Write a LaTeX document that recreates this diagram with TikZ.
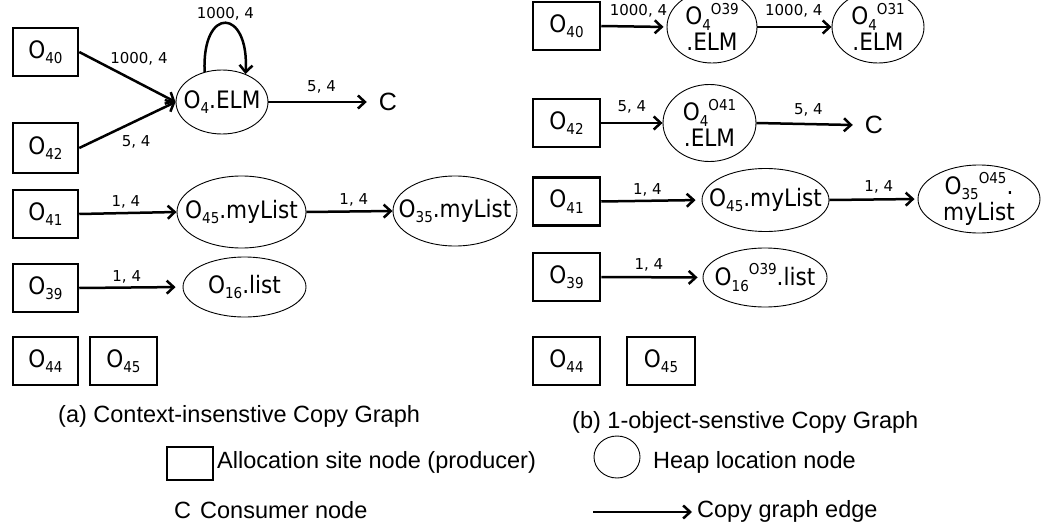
\documentclass[tikz,border=0pt]{standalone}
\usepackage{fontspec}
\setmainfont{Liberation Sans}
\newfontfamily\nodefont[FakeStretch=0.9]{DejaVu Sans}
\newfontfamily\lblfont{DejaVu Sans}
\usetikzlibrary{shapes.geometric,arrows.meta}

% lowered / raised indices inside node names
\newcommand\subsc[1]{\raisebox{-0.22em}{\fontsize{15}{15}\selectfont #1}}
\newcommand\supsc[1]{\raisebox{0.45em}{\fontsize{15}{15}\selectfont #1}}

\tikzset{
  box/.style={draw, line width=2.5pt, minimum width=65pt, minimum height=48pt,
    inner sep=0pt, font=\nodefont\fontsize{24}{26}\selectfont},
  heap/.style={draw, ellipse, line width=0.9pt, inner sep=0pt},
  heaptext/.style={inner sep=0pt, align=center, font=\nodefont\fontsize{24}{26}\selectfont},
  edge/.style={line width=2.5pt, -{Straight Barb[length=7pt,width=13pt]}},
  lbl/.style={inner sep=0pt, font=\lblfont\fontsize{15}{15}\selectfont},
  cons/.style={inner sep=0pt, inner xsep=12pt, font=\fontsize{25}{25}\selectfont},
  captext/.style={inner sep=0pt, font=\fontsize{23.5}{26}\selectfont},
}

\begin{document}
\begin{tikzpicture}[x=1pt, y=-1pt]
\fill[white] (0,0) rectangle (1041,527);
\useasboundingbox (0,0) rectangle (1041,527);

% ---------- (a) context-insensitive graph ----------
\node[box] (a40) at (45.5,52) {O\subsc{40}};
\node[box, minimum height=50pt] (a42) at (45.5,148) {O\subsc{42}};
\node[heap, minimum width=92pt, minimum height=64pt,
  label={[heaptext]center:O\subsc{4}.ELM}] (aelm) at (222,102) {};
\node[cons] (aC) at (388,102) {C};
\node[box] (a41) at (45.5,214) {O\subsc{41}};
\node[heap, minimum width=129pt, minimum height=72pt,
  label={[heaptext]center:O\subsc{45}.myList}] (amy45) at (241.5,212) {};
\node[heap, minimum width=124pt, minimum height=70pt,
  label={[heaptext]center:O\subsc{35}.myList}] (amy35) at (455,211) {};
\node[box] (a39) at (45.5,288) {O\subsc{39}};
\node[heap, minimum width=123pt, minimum height=60pt,
  label={[heaptext]center:O\subsc{16}.list}] (alist) at (244.5,287) {};
\node[box] (a44) at (45.5,361) {O\subsc{44}};
\node[box, minimum width=67pt] (a45) at (123.5,361) {O\subsc{45}};

\draw[edge] (a40.east) -- node[lbl, pos=.62, yshift=24pt] {1000, 4} (aelm.west);
\draw[edge] (a42.east) -- node[lbl, pos=.59, yshift=-21pt] {5, 4} (aelm.west);
\draw[edge] (aelm.120) .. controls +(-3,-67) and +(4,-66) .. node[lbl, pos=.5, yshift=9pt] {1000, 4} (aelm.50);
\draw[edge] (aelm.east) -- node[lbl, pos=.54, yshift=15pt] {5, 4} (aC.west);
\draw[edge] (a41.east) -- node[lbl, pos=.48, yshift=11pt] {1, 4} (amy45.west);
\draw[edge] (amy45.east) -- node[lbl, pos=.55, yshift=12pt] {1, 4} (amy35.west);
\draw[edge, shorten >=7pt] (a39.east) -- node[lbl, pos=.46, yshift=11pt] {1, 4} (alist.west);

% ---------- (b) 1-object-sensitive graph ----------
\node[box, minimum width=67pt] (b40) at (566.5,26) {O\subsc{40}};
\node[heap, minimum width=90pt, minimum height=72pt,
  label={[heaptext]center:{O\subsc{4}\supsc{O39}\\.ELM}}] (belm1) at (712,27) {};
\node[heap, minimum width=92pt, minimum height=72pt,
  label={[heaptext]center:{O\subsc{4}\supsc{O31}\\.ELM}}] (belm2) at (878,27) {};
\node[box, minimum width=67pt] (b42) at (566.5,123) {O\subsc{42}};
\node[heap, minimum width=93pt, minimum height=77pt,
  label={[heaptext]center:{O\subsc{4}\supsc{O41}\\.ELM}}] (belm3) at (709.5,123) {};
\node[cons] (bC) at (874,125) {C};
\node[box, minimum width=67pt] (b41) at (566.5,201.5) {O\subsc{41}};
\node[heap, minimum width=127pt, minimum height=63pt,
  label={[heaptext]center:O\subsc{45}.myList}] (bmy45) at (765.5,200) {};
\node[heap, minimum width=122pt, minimum height=68pt,
  label={[heaptext]center:{O\subsc{35}\supsc{O45}.\\myList}}] (bmy35) at (979,199) {};
\node[box, minimum width=67pt] (b39) at (566.5,277) {O\subsc{39}};
\node[heap, minimum width=124pt, minimum height=59pt,
  label={[heaptext]center:O\subsc{16}\supsc{O39}.list}] (blist) at (765,277.5) {};
\node[box, minimum width=67pt] (b44) at (566.5,361) {O\subsc{44}};
\node[box, minimum width=68pt] (b45) at (661,361) {O\subsc{45}};

\draw[edge, shorten >=3pt] (b40.east) -- node[lbl, pos=.57, yshift=16pt] {1000, 4} (belm1.west);
\draw[edge] (belm1.east) -- node[lbl, pos=.49, yshift=16pt] {1000, 4} (belm2.west);
\draw[edge] (b42.east) -- node[lbl, pos=.5, yshift=16pt] {5, 4} (belm3.west);
\draw[edge] (belm3.east) -- node[lbl, pos=.54, yshift=14pt] {5, 4} (bC.west);
\draw[edge, shorten >=6pt] (b41.east) -- node[lbl, pos=.46, yshift=11pt] {1, 4} (bmy45.west);
\draw[edge, shorten >=3pt] (bmy45.east) -- node[lbl, pos=.56, yshift=13pt] {1, 4} (bmy35.west);
\draw[edge, shorten >=5pt] (b39.east) -- node[lbl, pos=.47, yshift=12pt] {1, 4} (blist.west);

% ---------- captions and legend ----------
\node[captext, anchor=west] (capa) at (58,416) {(a) Context-insenstive Copy Graph};
\node[captext, anchor=west] (capb) at (572,422) {(b) 1-object-senstive Copy Graph};

\node[box, minimum width=46pt, minimum height=33pt] (lbox) at (190,463.5) {};
\node[captext, anchor=west] (lboxt) at (217,462) {Allocation site node (producer)};
\node[heap, minimum width=46pt, minimum height=42pt] (lell) at (617,457) {};
\node[captext, anchor=west] (lellt) at (653,462) {Heap location node};
\node[captext] (lC) at (182.5,510) {C};
\node[captext, anchor=west] (lCt) at (200,510) {Consumer node};
\coordinate (la) at (593,512);
\coordinate (lb) at (692,512);
\draw[edge] (la) -- (lb);
\node[captext, anchor=west] (let) at (697,511) {Copy graph edge};
\end{tikzpicture}
\end{document}
